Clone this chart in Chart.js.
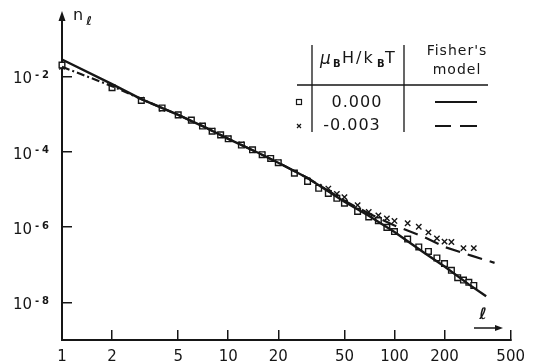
<!DOCTYPE html>
<html lang="en">
<head>
<meta charset="UTF-8">
<title>Cluster size distribution</title>
<style>
    body { margin: 0; background: #fff; }
    #chart { display: block; }
</style>
<script src="https://cdn.jsdelivr.net/npm/chart.js"></script>
</head>
<body>
<canvas id="chart" width="543" height="364"></canvas>
<script>
// tick positions
const xTicks = [1, 2, 5, 10, 20, 50, 100, 200, 500];
const yTicks = [1e-8, 1e-6, 1e-4, 1e-2];

// Fisher's model, muB H / kB T = 0.000 (solid)
const fisherZeroL = [1, 2, 3, 5, 7, 10, 15, 20, 30, 50, 70, 100, 150, 200, 280, 356];
const fisherZeroN = [2.8e-2, 6.2e-3, 2.5e-3, 9.5e-4, 4.8e-4, 2.2e-4, 9.5e-5, 5.1e-5, 2.0e-5, 4.7e-6, 2.0e-6, 7.4e-7, 2.1e-7, 8.9e-8, 3.0e-8, 1.45e-8];

// Fisher's model, muB H / kB T = -0.003 (dashed)
const fisherNegL = [1, 2, 3, 5, 7, 10, 15, 20, 30, 50, 70, 100, 150, 200, 290, 400];
const fisherNegN = [1.8e-2, 5.5e-3, 2.5e-3, 9.5e-4, 4.8e-4, 2.2e-4, 9.5e-5, 5.1e-5, 2.0e-5, 5.0e-6, 2.3e-6, 1.1e-6, 5.5e-7, 2.95e-7, 1.74e-7, 1.12e-7];

// simulation points, 0.000 (squares)
const zeroL = [1, 2, 3, 4, 5, 6, 7, 8, 9, 10, 12, 14, 16, 18, 20, 25, 30, 35, 40, 45, 50, 60, 70, 80, 90, 100, 120, 140, 160, 180, 200, 220, 240, 260, 280, 300];
const zeroN = [2.0e-2, 5.0e-3, 2.3e-3, 1.45e-3, 9.5e-4, 6.9e-4, 4.8e-4, 3.5e-4, 2.8e-4, 2.2e-4, 1.5e-4, 1.12e-4, 8.3e-5, 6.6e-5, 5.1e-5, 2.7e-5, 1.62e-5, 1.07e-5, 7.8e-6, 5.8e-6, 4.3e-6, 2.6e-6, 1.86e-6, 1.48e-6, 9.8e-7, 7.6e-7, 4.8e-7, 2.95e-7, 2.24e-7, 1.51e-7, 1.07e-7, 7.1e-8, 4.5e-8, 3.9e-8, 3.4e-8, 2.8e-8];

// simulation points, -0.003 (crosses)
const negL = [1, 2, 3, 4, 5, 6, 7, 8, 9, 10, 12, 14, 16, 18, 20, 25, 30, 35, 40, 45, 50, 60, 70, 80, 90, 100, 120, 140, 160, 180, 200, 220, 260, 300];
const negN = [1.8e-2, 5.2e-3, 2.4e-3, 1.38e-3, 9.3e-4, 6.8e-4, 4.9e-4, 3.6e-4, 2.75e-4, 2.24e-4, 1.55e-4, 1.1e-4, 8.5e-5, 6.5e-5, 5.2e-5, 2.75e-5, 1.74e-5, 1.17e-5, 1.05e-5, 7.6e-6, 6.2e-6, 3.8e-6, 2.5e-6, 2.04e-6, 1.7e-6, 1.45e-6, 1.26e-6, 1.02e-6, 7.2e-7, 5.0e-7, 4.1e-7, 4.0e-7, 2.75e-7, 2.75e-7];

const ink = '#161616';
const pts = (xs, ys) => xs.map((x, i) => ({ x: x, y: ys[i] }));

Chart.defaults.font.family = 'DejaVu Sans';
Chart.defaults.font.size = 15;
Chart.defaults.color = ink;

// axis labels, superscript tick labels, arrows and the legend table
const decorations = {
    id: 'decorations',
    afterDraw(chart) {
        const ctx = chart.ctx;
        const area = chart.chartArea;
        const ys = chart.scales.y;
        ctx.save();
        ctx.fillStyle = ink;
        ctx.strokeStyle = ink;

        // y tick labels 10^-n
        yTicks.forEach(v => {
            const py = ys.getPixelForValue(v);
            const exp = Math.round(Math.log10(v));
            ctx.font = '15px "DejaVu Sans"';
            ctx.textAlign = 'right';
            ctx.textBaseline = 'middle';
            ctx.fillText('10', 32, py + 3);
            ctx.font = 'bold 10px "DejaVu Sans"';
            ctx.textAlign = 'left';
            ctx.fillText('-', 35, py - 1);
            ctx.fillText(String(-exp), 42, py - 1);
        });

        // y axis arrow
        ctx.lineWidth = 2;
        ctx.beginPath();
        ctx.moveTo(area.left, area.top);
        ctx.lineTo(area.left, 16);
        ctx.stroke();
        ctx.beginPath();
        ctx.moveTo(area.left, 11);
        ctx.lineTo(area.left - 3.5, 21);
        ctx.lineTo(area.left + 3.5, 21);
        ctx.closePath();
        ctx.fill();

        // y axis title n_l
        ctx.font = '16px "DejaVu Sans"';
        ctx.textAlign = 'center';
        ctx.textBaseline = 'middle';
        ctx.fillText('n', 78, 16);
        ctx.font = 'italic bold 12px "DejaVu Sans"';
        ctx.fillText('ℓ', 89, 22);

        // x axis title l with arrow
        ctx.font = 'italic bold 16px "DejaVu Sans"';
        ctx.fillText('ℓ', 483, 315);
        ctx.lineWidth = 1.5;
        ctx.beginPath();
        ctx.moveTo(474, 328);
        ctx.lineTo(497, 328);
        ctx.stroke();
        ctx.beginPath();
        ctx.moveTo(503, 328);
        ctx.lineTo(495, 325);
        ctx.lineTo(495, 331);
        ctx.closePath();
        ctx.fill();

        // legend table
        ctx.lineWidth = 1.3;
        ctx.beginPath();
        ctx.moveTo(312, 45); ctx.lineTo(312, 132);
        ctx.moveTo(404, 45); ctx.lineTo(404, 132);
        ctx.moveTo(297, 85); ctx.lineTo(488, 85);
        ctx.stroke();

        ctx.textBaseline = 'middle';
        ctx.textAlign = 'left';
        ctx.font = 'italic 17px "DejaVu Sans"';
        ctx.fillText('μ', 320, 60);
        ctx.font = 'bold 10px "DejaVu Sans"';
        ctx.fillText('B', 333, 64);
        ctx.font = '16px "DejaVu Sans"';
        ctx.letterSpacing = '2px';
        ctx.fillText('H/k', 342, 59);
        ctx.letterSpacing = '0px';
        ctx.font = 'bold 10px "DejaVu Sans"';
        ctx.fillText('B', 377, 64);
        ctx.font = '16px "DejaVu Sans"';
        ctx.fillText('T', 385, 59);

        ctx.textAlign = 'center';
        ctx.font = '14px "DejaVu Sans"';
        ctx.letterSpacing = '1px';
        ctx.fillText("Fisher's", 457, 51);
        ctx.fillText('model', 457, 70);
        ctx.font = '16px "DejaVu Sans"';
        ctx.fillText('0.000', 357, 103);
        ctx.fillText('-0.003', 352, 126);
        ctx.letterSpacing = '0px';

        // legend symbols
        ctx.lineWidth = 1.2;
        ctx.strokeRect(296.5, 99.5, 5, 5);
        ctx.beginPath();
        ctx.moveTo(297, 124); ctx.lineTo(301, 128);
        ctx.moveTo(301, 124); ctx.lineTo(297, 128);
        ctx.stroke();
        ctx.lineWidth = 2.2;
        ctx.beginPath();
        ctx.moveTo(435, 102); ctx.lineTo(477, 102);
        ctx.moveTo(435, 126); ctx.lineTo(451, 126);
        ctx.moveTo(460, 126); ctx.lineTo(477, 126);
        ctx.stroke();
        ctx.restore();
    }
};

new Chart(document.getElementById('chart'), {
    type: 'scatter',
    data: {
        datasets: [
            {
                label: 'Fisher 0.000',
                data: pts(fisherZeroL, fisherZeroN),
                showLine: true,
                borderColor: ink,
                borderWidth: 2.4,
                pointRadius: 0,
                clip: 4
            },
            {
                label: 'Fisher -0.003',
                data: pts(fisherNegL, fisherNegN),
                showLine: true,
                borderColor: ink,
                borderWidth: 2.2,
                pointRadius: 0,
                clip: 4,
                segment: {
                    borderDash: c => c.p0.parsed.x < 5 ? [8, 3, 2, 3] : [15, 8]
                }
            },
            {
                label: '0.000',
                data: pts(zeroL, zeroN),
                pointStyle: 'rect',
                pointRadius: 4,
                borderWidth: 1.4,
                borderColor: ink,
                backgroundColor: '#fff',
                clip: 6
            },
            {
                label: '-0.003',
                data: pts(negL, negN),
                pointStyle: 'crossRot',
                pointRadius: 3.8,
                borderWidth: 1.4,
                borderColor: ink,
                clip: 6
            }
        ]
    },
    options: {
        responsive: false,
        animation: false,
        layout: { padding: { top: 18, right: 20, left: 0, bottom: 0 } },
        plugins: {
            legend: { display: false },
            tooltip: { enabled: false }
        },
        scales: {
            x: {
                type: 'logarithmic',
                min: 1,
                max: 500,
                afterBuildTicks: s => { s.ticks = xTicks.map(v => ({ value: v })); },
                afterFit: s => { s.height = 24; },
                border: { color: ink, width: 2 },
                grid: { drawOnChartArea: false, tickLength: -10, color: ink, lineWidth: 1.5 },
                ticks: {
                    padding: 18,
                    maxRotation: 0,
                    autoSkip: false,
                    font: { size: 15 },
                    callback: v => String(v)
                }
            },
            y: {
                type: 'logarithmic',
                min: 1e-9,
                max: Math.pow(10, -0.45),
                afterBuildTicks: s => { s.ticks = yTicks.map(v => ({ value: v })); },
                afterFit: s => { s.width = 62; },
                border: { color: ink, width: 2 },
                grid: { drawOnChartArea: false, tickLength: -10, color: ink, lineWidth: 1.5 },
                ticks: { display: false }
            }
        }
    },
    plugins: [decorations]
});
</script>
</body>
</html>
